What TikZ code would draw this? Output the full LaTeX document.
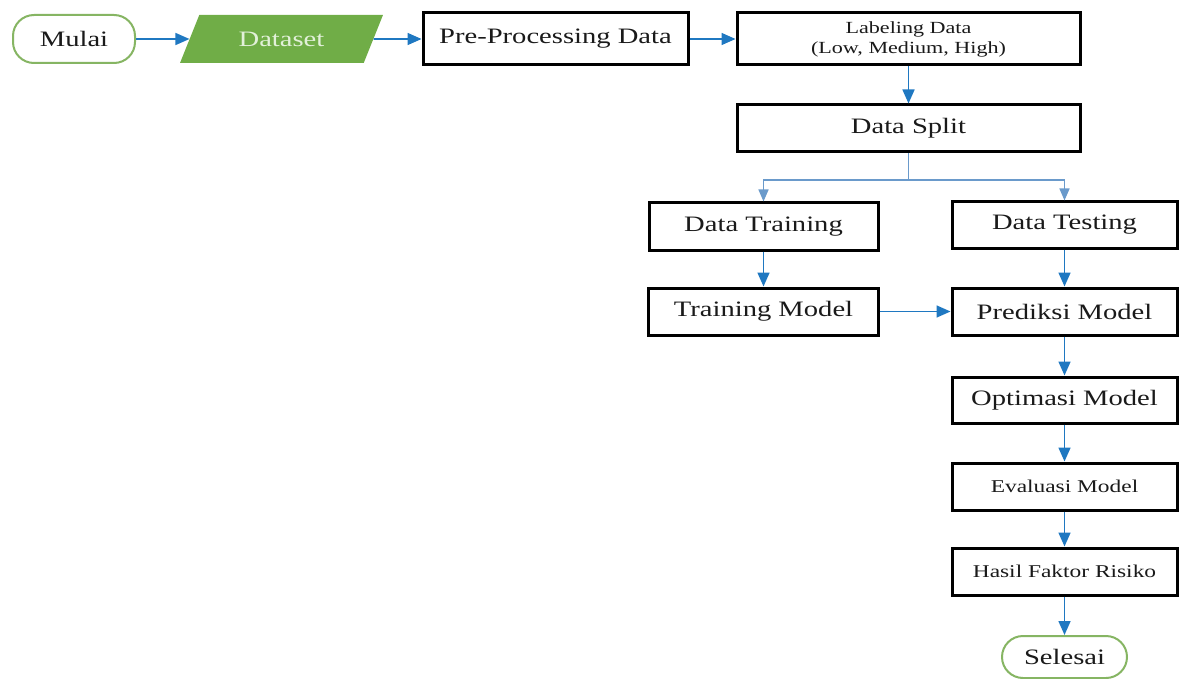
\documentclass[tikz,border=0pt]{standalone}
\usepackage{fontspec}
\setmainfont[FakeStretch=1.3]{Liberation Serif}
\usetikzlibrary{arrows.meta,shapes.geometric}
\definecolor{flowblue}{HTML}{1F78C1}
\definecolor{splitblue}{HTML}{6A9ACB}
\definecolor{termgreen}{HTML}{86B563}
\definecolor{datagreen}{HTML}{70AD47}
\definecolor{datatext}{HTML}{E2F0D9}
\definecolor{inktext}{HTML}{1A1A1A}
\begin{document}
\begin{tikzpicture}[x=1pt,y=-1pt,
  bigfont/.style={font=\fontsize{22}{26}\selectfont},
  midfont/.style={font=\fontsize{18}{22}\selectfont},
  smallfont/.style={font=\fontsize{17}{20}\selectfont},
  procbox/.style={draw=black,line width=3pt,fill=white,text=inktext,inner sep=0pt,align=center},
  terminal/.style={draw=termgreen,line width=2pt,fill=white,text=inktext,rounded corners=21pt,inner sep=0pt,bigfont},
  dataio/.style={trapezium,trapezium left angle=55.5,trapezium right angle=124.5,trapezium stretches=true,fill=datagreen,text=datatext,inner sep=0pt,bigfont},
  flowarrow/.style={draw=flowblue,line width=1.6pt,-{Triangle[length=14pt,width=12pt]}},
  splitline/.style={draw=splitblue,line width=1.5pt},
  splitarrow/.style={splitline,-{Triangle[length=12pt,width=10pt]}}
]
\useasboundingbox (0,0) rectangle (1180,679);

\node[terminal,minimum width=122pt,minimum height=48pt] (mulai) at (74,39) {Mulai};
\node[dataio,minimum width=203pt,minimum height=48pt] (dataset) at (281.5,39) {Dataset};
\node[procbox,bigfont,minimum width=265pt,minimum height=52pt] (pre) at (555.5,39) {Pre-Processing Data};
\node[procbox,smallfont,minimum width=343pt,minimum height=52pt] (label) at (908.5,39) {Labeling Data\\(Low, Medium, High)};
\node[procbox,bigfont,minimum width=343pt,minimum height=47pt] (split) at (908.5,128.5) {Data Split};
\coordinate (sp) at (908.5,180);
\node[procbox,bigfont,minimum width=229pt,minimum height=47pt] (dtrain) at (763.5,226.5) {Data Training};
\node[procbox,bigfont,minimum width=225pt,minimum height=46pt] (dtest) at (1064.5,225) {Data Testing};
\node[procbox,bigfont,minimum width=230pt,minimum height=47pt] (tmodel) at (763.5,311.5) {Training Model};
\node[procbox,bigfont,minimum width=225pt,minimum height=47pt] (pred) at (1064.5,311.5) {Prediksi Model};
\node[procbox,bigfont,minimum width=225pt,minimum height=46pt] (opt) at (1064.5,400) {Optimasi Model};
\node[procbox,midfont,minimum width=225pt,minimum height=47pt] (eval) at (1064.5,486.5) {Evaluasi Model};
\node[procbox,midfont,minimum width=225pt,minimum height=47pt] (hasil) at (1064.5,571.5) {Hasil Faktor Risiko};
\node[terminal,minimum width=125pt,minimum height=42pt] (selesai) at (1064.5,657) {Selesai};

\draw[flowarrow] (mulai) -- (dataset);
\draw[flowarrow] (dataset) -- (pre);
\draw[flowarrow] (pre) -- (label);
\draw[flowarrow] (label) -- (split);
\draw[splitline] (split) -- (sp);
\draw[splitarrow] (sp) -| (dtrain);
\draw[splitarrow] (sp) -| (dtest);
\draw[flowarrow] (dtrain) -- (tmodel);
\draw[flowarrow] (dtest) -- (pred);
\draw[flowarrow] (tmodel) -- (pred);
\draw[flowarrow] (pred) -- (opt);
\draw[flowarrow] (opt) -- (eval);
\draw[flowarrow] (eval) -- (hasil);
\draw[flowarrow] (hasil) -- (selesai);
\end{tikzpicture}
\end{document}
